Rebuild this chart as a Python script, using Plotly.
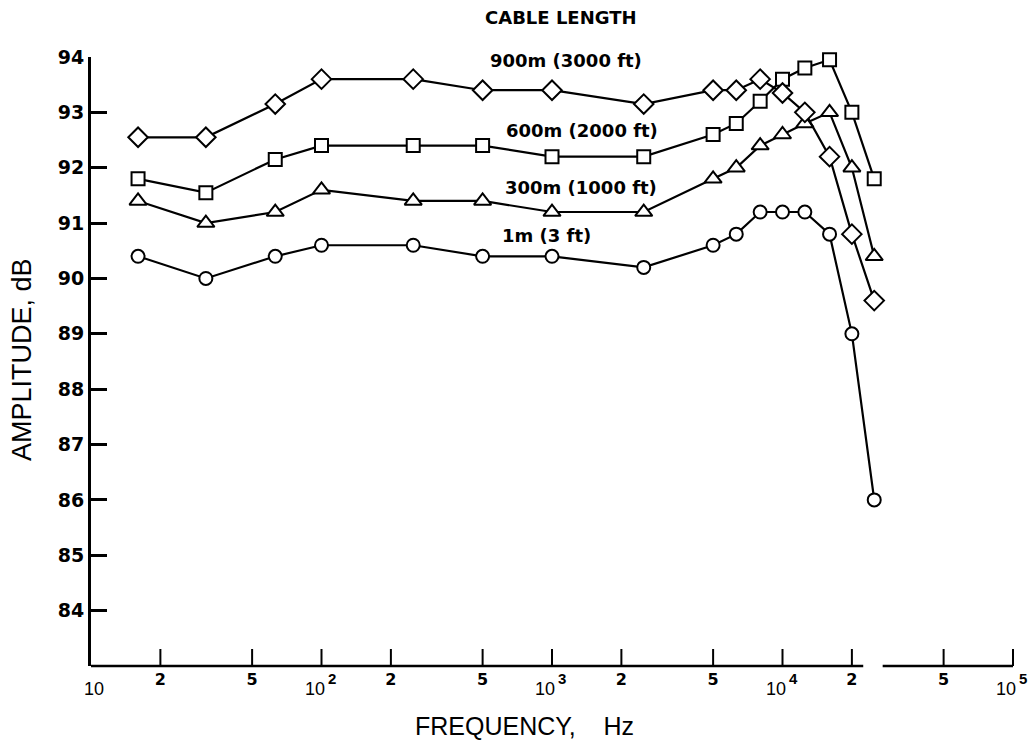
import math
import plotly.graph_objects as go

# ---------------- data ----------------
freq_hz = [16, 31.5, 63, 100, 250, 500, 1000, 2500, 5000, 6300, 8000, 10000, 12500, 16000, 20000, 25000]
amp_1m = [90.4, 90.0, 90.4, 90.6, 90.6, 90.4, 90.4, 90.2, 90.6, 90.8, 91.2, 91.2, 91.2, 90.8, 89.0, 86.0]
amp_300m = [91.4, 91.0, 91.2, 91.6, 91.4, 91.4, 91.2, 91.2, 91.8, 92.0, 92.4, 92.6, 92.8, 93.0, 92.0, 90.4]
amp_600m = [91.8, 91.55, 92.15, 92.4, 92.4, 92.4, 92.2, 92.2, 92.6, 92.8, 93.2, 93.6, 93.8, 93.95, 93.0, 91.8]
amp_900m = [92.55, 92.55, 93.15, 93.6, 93.6, 93.4, 93.4, 93.15, 93.4, 93.4, 93.6, 93.35, 93.0, 92.2, 90.8, 89.6]

series_names = ["1m (3 ft)", "300m (1000 ft)", "600m (2000 ft)", "900m (3000 ft)"]
series_values = [amp_1m, amp_300m, amp_600m, amp_900m]
series_symbols = ["circle", "triangle-up", "square", "diamond"]
series_marker_sizes = [13, 15, 13, 15]

minor_tick_vals = [20, 50, 200, 500, 2000, 5000, 20000, 50000]
minor_tick_text = ["2", "5", "2", "5", "2", "5", "2", "5"]
decade_tick_vals = [10, 100, 1000, 10000, 100000]
decade_base_text = ["10", "10", "10", "10", "10"]
decade_exp_text = ["", "2", "3", "4", "5"]
y_tick_vals = [84, 85, 86, 87, 88, 89, 90, 91, 92, 93, 94]

axis_break = (22400, 27200)
x_decades = (1, 5)

# ---------------- figure ----------------
fig = go.Figure()

for name, vals, sym, sz in zip(series_names, series_values, series_symbols, series_marker_sizes):
    fig.add_trace(go.Scatter(
        x=freq_hz, y=vals, name=name, mode="lines+markers",
        line=dict(color="black", width=2.2),
        marker=dict(symbol=sym, size=sz, color="white",
                    line=dict(color="black", width=2)),
        cliponaxis=False, showlegend=False,
    ))

W, H = 1033, 742
L, R, T, B = 91, 20, 57, 76
pw, ph = W - L - R, H - T - B


def px(xp):
    return (xp - L) / pw


def py(yp):
    return (H - B - yp) / ph


def xpaper(v):
    return (math.log10(v) - x_decades[0]) / (x_decades[1] - x_decades[0])


annotations = []
label_font = dict(family="DejaVu Sans", size=18, color="black", weight="bold")
annotations.append(dict(text="CABLE LENGTH", xref="paper", yref="paper", x=px(561), y=py(17.5),
                        xanchor="center", yanchor="middle", showarrow=False, font=label_font))
label_pos = {"900m (3000 ft)": (488, 60), "600m (2000 ft)": (504, 131),
             "300m (1000 ft)": (503, 187.5), "1m (3 ft)": (500, 236)}
for name in series_names:
    lx, ly = label_pos[name]
    annotations.append(dict(text=name, xref="paper", yref="paper", x=px(lx), y=py(ly),
                            xanchor="left", yanchor="middle", showarrow=False, font=label_font))

# decade tick labels: "10" with a raised exponent, set lower than the 2 / 5 labels
base_font = dict(family="Liberation Sans", size=18, color="black")
exp_font = dict(family="Liberation Sans", size=15, color="black", weight="bold")
for v, b, e in zip(decade_tick_vals, decade_base_text, decade_exp_text):
    if e:
        annotations.append(dict(text=b, xref="paper", yref="paper", x=xpaper(v), y=0,
                                xanchor="right", yanchor="middle", yshift=-22.5, xshift=5,
                                showarrow=False, font=base_font))
        annotations.append(dict(text=e, xref="paper", yref="paper", x=xpaper(v), y=0,
                                xanchor="left", yanchor="middle", yshift=-12.5, xshift=4,
                                showarrow=False, font=exp_font))
    else:
        annotations.append(dict(text=b, xref="paper", yref="paper", x=xpaper(v), y=0,
                                xanchor="center", yanchor="middle", yshift=-22.5, xshift=3,
                                showarrow=False, font=base_font))

# axis titles
annotations.append(dict(text="AMPLITUDE, dB", xref="paper", yref="paper", x=px(22), y=py(360),
                        xanchor="center", yanchor="middle", textangle=-90, showarrow=False,
                        font=dict(family="Liberation Sans", size=27, color="black")))
annotations.append(dict(text="FREQUENCY,\u00a0\u00a0\u00a0\u00a0Hz", xref="paper", yref="paper",
                        x=px(524), y=py(726), xanchor="center", yanchor="middle", showarrow=False,
                        font=dict(family="Liberation Sans", size=25, color="black")))

# broken x axis line and its tick marks (paper coordinates)
shapes = [
    dict(type="line", xref="paper", yref="paper", x0=0, x1=xpaper(axis_break[0]), y0=0, y1=0,
         line=dict(color="black", width=2.5), layer="above"),
    dict(type="line", xref="paper", yref="paper", x0=xpaper(axis_break[1]), x1=1, y0=0, y1=0,
         line=dict(color="black", width=2.5), layer="above"),
]
tick_len_paper = 17 / ph
for v in minor_tick_vals + decade_tick_vals[1:]:
    shapes.append(dict(type="line", xref="paper", yref="paper", x0=xpaper(v), x1=xpaper(v),
                       y0=0, y1=tick_len_paper, line=dict(color="black", width=2), layer="above"))

fig.update_layout(
    width=W, height=H,
    margin=dict(l=L, r=R, t=T, b=B, pad=0),
    paper_bgcolor="white", plot_bgcolor="white",
    annotations=annotations, shapes=shapes,
    xaxis=dict(type="log", range=list(x_decades), showline=False, showgrid=False, zeroline=False,
               ticks="", tickmode="array", tickvals=minor_tick_vals, ticktext=minor_tick_text,
               ticklabelstandoff=2,
               tickfont=dict(family="DejaVu Sans", size=16, color="black", weight="bold")),
    yaxis=dict(range=[83, 94], showline=True, linewidth=3, linecolor="black", showgrid=False,
               zeroline=False, ticks="inside", tickvals=y_tick_vals, ticklen=16, tickwidth=2.5,
               tickcolor="black",
               tickfont=dict(family="DejaVu Sans", size=19, color="black", weight="bold")),
)

fig.write_html("out.html")
